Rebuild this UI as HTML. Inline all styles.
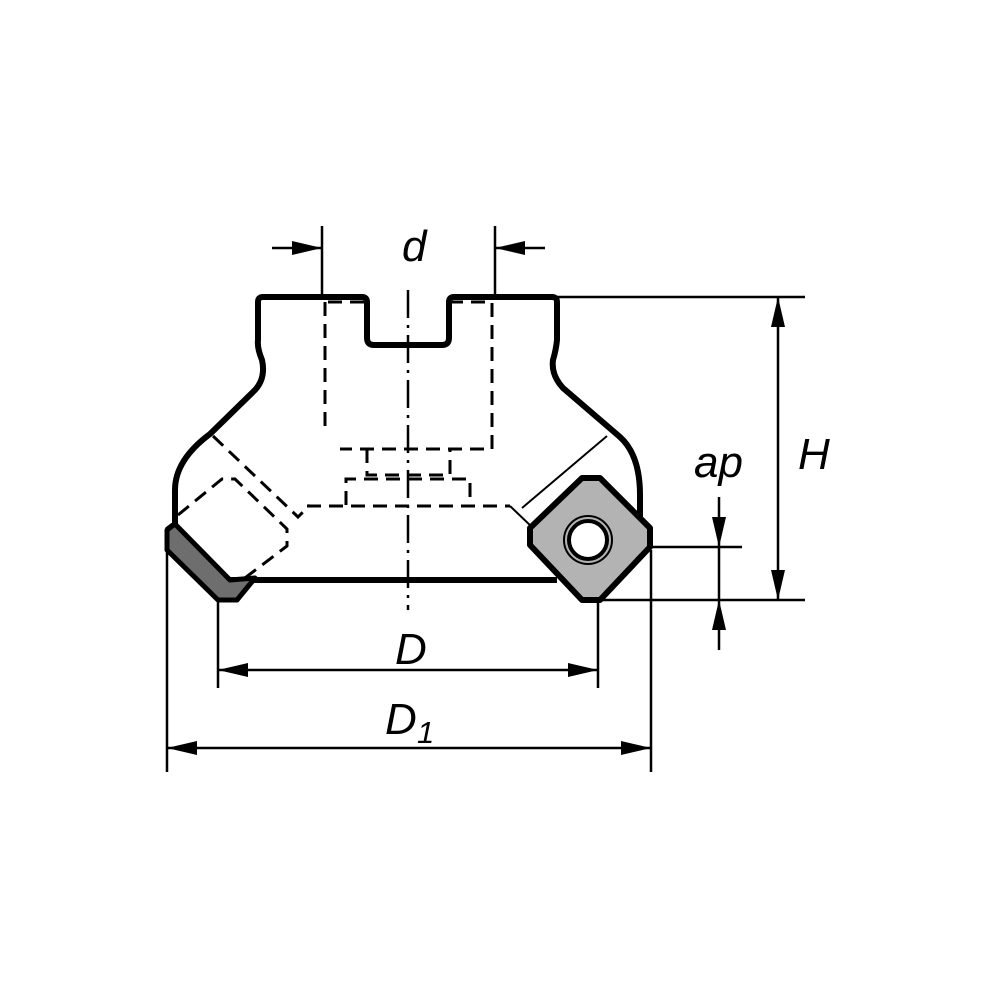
<!DOCTYPE html>
<html><head><meta charset="utf-8"><style>
html,body{margin:0;padding:0;background:#fff;}
svg{display:block;}
text{font-family:"Liberation Sans",sans-serif;font-style:italic;fill:#000;}
</style></head><body>
<svg width="1000" height="1000" viewBox="0 0 1000 1000" xmlns="http://www.w3.org/2000/svg">
<defs>
<marker id="a" markerWidth="30" markerHeight="14" refX="30" refY="7" orient="auto" markerUnits="userSpaceOnUse"><path d="M0,0 L30,7 L0,14 Z" fill="#000"/></marker>
</defs>
<g stroke="#000" fill="none">
<g stroke-width="3" stroke-dasharray="14,8">
<path d="M325,302 V432"/>
<path d="M328,302 H367"/>
<path d="M449,302 H492 V449 H340"/>
<path d="M367,449 V475 H450 V449"/>
<path d="M346,505 V479 H470 V505"/>
<path d="M307,506 H510"/>
<path d="M213,436 L298,517 L310,505"/>
<path d="M178,515 L222,479 H235 L287,529 V546 L237,584"/>
</g>
<path d="M408,290 V610" stroke-width="2.5" stroke-dasharray="28,7,3,7"/>
<path d="M167,530 L175,524 V490 Q175,460 210,434 L255,390 Q266,378 262,360 Q257,348 258,340 V302 Q258,297 263,297 H362 Q367,297 367,302 V338 Q367,345 374,345 H442 Q449,345 449,338 V302 Q449,297 454,297 H552 Q557,297 557,302 V340 Q556,350 553,360 Q551,375 563,388 L620,437 Q640,455 640,495 V522" stroke-width="6" stroke-linejoin="round"/>
<path d="M227,580 H557" stroke-width="6"/>
<path d="M167,530 L175,524 L230,580 L255,578 L237,600 L218,600 L167,550 Z" fill="#6e6e6e" stroke-width="5" stroke-linejoin="round"/>
<path d="M607,436 L522,508 M510,506 L533,528" stroke-width="2"/>
<path d="M530,528 L582,478 H600 L650,528 V547 L600,600 H582 L530,545 Z" fill="#b3b3b3" stroke-width="6" stroke-linejoin="round"/>
<circle cx="588" cy="540" r="24" stroke-width="2"/>
<circle cx="588" cy="540" r="19" fill="#fff" stroke-width="4"/>
<g stroke-width="2.5">
<path d="M322,226 V297 M495,226 V297"/>
<path d="M272,248 H322" marker-end="url(#a)"/>
<path d="M545,248 H495" marker-end="url(#a)"/>
<path d="M557,297 H805 M600,600 H805 M650,547 H742"/>
<path d="M778,450 V297" marker-end="url(#a)"/>
<path d="M778,450 V600" marker-end="url(#a)"/>
<path d="M719,497 V547" marker-end="url(#a)"/>
<path d="M719,650 V600" marker-end="url(#a)"/>
<path d="M719,547 V600"/>
<path d="M218,600 V688 M598,600 V688"/>
<path d="M408,670 H218" marker-end="url(#a)"/>
<path d="M408,670 H598" marker-end="url(#a)"/>
<path d="M167,550 V772 M651,550 V772"/>
<path d="M409,748 H167" marker-end="url(#a)"/>
<path d="M409,748 H651" marker-end="url(#a)"/>
</g>
</g>
<text x="402" y="261" font-size="44">d</text>
<text x="694" y="477" font-size="44">ap</text>
<text x="798" y="469" font-size="44">H</text>
<text x="395" y="664" font-size="44">D</text>
<text x="385" y="734" font-size="44">D</text>
<text x="417" y="743" font-size="31">1</text>
</svg>
</body></html>
